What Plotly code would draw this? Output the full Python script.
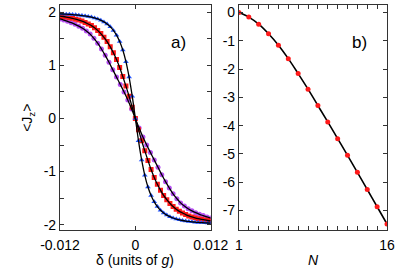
import plotly.graph_objects as go

# ---- panel a) data ----
delta_blue = [-0.012, -0.0115, -0.011, -0.0105, -0.01, -0.0095, -0.009, -0.0085, -0.008, -0.0075,
              -0.007, -0.0065, -0.006, -0.0055, -0.005, -0.0045, -0.004, -0.0035, -0.003, -0.0025,
              -0.002, -0.0015, -0.001, -0.0005, 0.0, 0.0005, 0.001, 0.0015, 0.002, 0.0025,
              0.003, 0.0035, 0.004, 0.0045, 0.005, 0.0055, 0.006, 0.0065, 0.007, 0.0075,
              0.008, 0.0085, 0.009, 0.0095, 0.01, 0.0105, 0.011, 0.0115, 0.012]
jz_blue = [1.972, 1.969, 1.966, 1.962, 1.958, 1.953, 1.947, 1.94, 1.932, 1.922, 1.91, 1.895,
           1.875, 1.85, 1.82, 1.78, 1.73, 1.66, 1.57, 1.45, 1.29, 1.07, 0.78, 0.42, 0.0,
           -0.42, -0.78, -1.07, -1.29, -1.45, -1.57, -1.66, -1.73, -1.78, -1.82, -1.85, -1.875,
           -1.895, -1.91, -1.922, -1.932, -1.94, -1.947, -1.953, -1.958, -1.962, -1.966, -1.969, -1.972]

delta_red = list(delta_blue)
jz_red = [1.93, 1.922, 1.912, 1.90, 1.887, 1.872, 1.855, 1.835, 1.81, 1.78, 1.75, 1.71,
          1.66, 1.60, 1.53, 1.45, 1.35, 1.24, 1.11, 0.96, 0.79, 0.61, 0.42, 0.21, 0.0,
          -0.21, -0.42, -0.61, -0.79, -0.96, -1.11, -1.24, -1.35, -1.45, -1.53, -1.60, -1.66,
          -1.71, -1.75, -1.78, -1.81, -1.835, -1.855, -1.872, -1.887, -1.90, -1.912, -1.922, -1.93]

delta_purple = [-0.012, -0.0114, -0.0108, -0.0102, -0.0096, -0.009, -0.0084, -0.0078, -0.0072, -0.0066,
                -0.006, -0.0054, -0.0048, -0.0042, -0.0036, -0.003, -0.0024, -0.0018, -0.0012, -0.0006,
                0.0, 0.0006, 0.0012, 0.0018, 0.0024, 0.003, 0.0036, 0.0042, 0.0048, 0.0054,
                0.006, 0.0066, 0.0072, 0.0078, 0.0084, 0.009, 0.0096, 0.0102, 0.0108, 0.0114, 0.012]
jz_purple = [1.875, 1.855, 1.83, 1.805, 1.775, 1.74, 1.70, 1.65, 1.59, 1.51, 1.42, 1.31, 1.19,
             1.06, 0.92, 0.78, 0.64, 0.50, 0.35, 0.18, 0.0, -0.18, -0.35, -0.50, -0.64, -0.78,
             -0.92, -1.06, -1.19, -1.31, -1.42, -1.51, -1.59, -1.65, -1.70, -1.74, -1.775, -1.805,
             -1.83, -1.855, -1.875]

# ---- panel b) data ----
N_vals = [1, 2, 3, 4, 5, 6, 7, 8, 9, 10, 11, 12, 13, 14, 15, 16]
jz_N = [0.0, -0.16, -0.41, -0.75, -1.155, -1.63, -2.16, -2.71, -3.29, -3.87, -4.46,
        -5.05, -5.65, -6.26, -6.87, -7.48]

# ---- tick labels ----
xa_tickvals = [-0.012, 0, 0.012]
xa_ticktext = ["-0.012", "0", "0.012"]
ya_tickvals = [2, 1, 0, -1, -2]
ya_ticktext = ["2", "1", "0", "-1", "-2"]
xb_tickvals = [1, 16]
xb_ticktext = ["1", "16"]
yb_tickvals = [0, -1, -2, -3, -4, -5, -6, -7]
yb_ticktext = ["0", "-1", "-2", "-3", "-4", "-5", "-6", "-7"]

W, H = 415, 273
BLUE = "#2355ff"
RED = "#ff1a1a"
PURPLE = "#b54ef2"
FONT = "Liberation Sans, Arial, Helvetica, sans-serif"

fig = go.Figure()

# markers (panel a)
fig.add_trace(go.Scatter(x=delta_purple, y=jz_purple, mode="markers", xaxis="x", yaxis="y",
                         marker=dict(symbol="circle", size=5, color=PURPLE), showlegend=False))
fig.add_trace(go.Scatter(x=delta_red, y=jz_red, mode="markers", xaxis="x", yaxis="y",
                         marker=dict(symbol="square", size=5, color=RED), showlegend=False))
fig.add_trace(go.Scatter(x=delta_blue, y=jz_blue, mode="markers", xaxis="x", yaxis="y",
                         marker=dict(symbol="triangle-up", size=5, color=BLUE), showlegend=False))
# black fit lines (panel a)
for dx, dy in [(delta_purple, jz_purple), (delta_red, jz_red), (delta_blue, jz_blue)]:
    fig.add_trace(go.Scatter(x=dx, y=dy, mode="lines", xaxis="x", yaxis="y",
                             line=dict(color="black", width=1.3, shape="spline"), showlegend=False))

# panel b
fig.add_trace(go.Scatter(x=N_vals, y=jz_N, mode="lines", xaxis="x2", yaxis="y2",
                         line=dict(color="black", width=1.6, shape="spline"), showlegend=False))
fig.add_trace(go.Scatter(x=N_vals, y=jz_N, mode="markers", xaxis="x2", yaxis="y2",
                         marker=dict(symbol="circle", size=5, color=RED), showlegend=False))

ax_common = dict(showline=True, linecolor="#333333", linewidth=1, mirror="ticks",
                 ticks="inside", ticklen=4, tickcolor="#333333", tickwidth=1,
                 showgrid=False, zeroline=False,
                 tickfont=dict(family=FONT, size=14, color="black"))

ydom = [1 - 232.5 / H, 1 - 4.7 / H]


def ann(text, x, y, size=14, angle=0):
    return dict(text=text, x=x / W, y=1 - y / H, xref="paper", yref="paper",
                xanchor="center", yanchor="middle", textangle=angle, showarrow=False,
                font=dict(family=FONT, size=size, color="black"))


fig.update_layout(
    width=W, height=H,
    margin=dict(l=0, r=0, t=0, b=0),
    paper_bgcolor="white", plot_bgcolor="white",
    xaxis=dict(domain=[44 / W, 210 / W], range=[-0.012, 0.012], anchor="y",
               tickvals=xa_tickvals, ticktext=xa_ticktext, ticklabelstandoff=2, **ax_common),
    yaxis=dict(domain=ydom, range=[-2.10, 2.145], anchor="x",
               tickvals=ya_tickvals, ticktext=ya_ticktext,
               minor=dict(dtick=0.5, tick0=0, ticks="inside", ticklen=4, tickcolor="#333333"),
               **ax_common),
    xaxis2=dict(domain=[241 / W, 404 / W], range=[1, 16], anchor="y2",
                tickvals=xb_tickvals, ticktext=xb_ticktext, ticklabelstandoff=2,
                minor=dict(dtick=1, tick0=1, ticks="inside", ticklen=4, tickcolor="#333333"),
                **ax_common),
    yaxis2=dict(domain=ydom, range=[-7.69, 0.28], anchor="x2",
                tickvals=yb_tickvals, ticktext=yb_ticktext, **ax_common),
    annotations=[
        ann("&lt;J<sub>z</sub>&gt;", 9, 119, angle=-90),
        ann("δ (units of <i>g</i>)", 127, 263),
        ann("<i>N</i>", 323, 263),
        ann("a)", 174, 43, size=17),
        ann("b)", 374, 43, size=17),
    ],
)

fig.write_html("out.html", config={"displayModeBar": False},
               post_script="document.body.style.margin='0px';")
